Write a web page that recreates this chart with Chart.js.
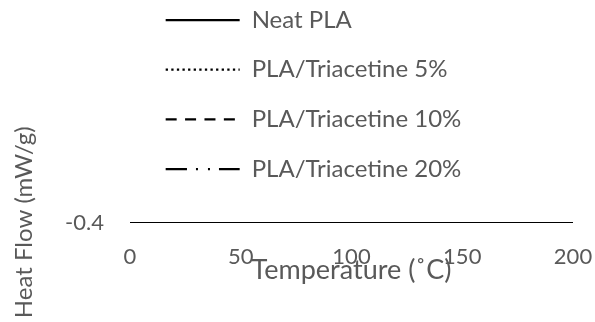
<!DOCTYPE html>
<html>
<head>
<meta charset="utf-8">
<script src="https://cdn.jsdelivr.net/npm/chart.js@4"></script>
<style>
  body { margin: 0; background: #fff; }
  canvas { display: block; }
</style>
</head>
<body>
<canvas id="chart" width="595" height="322"></canvas>
<script>
// values: the plot area is squashed flat,
// every series lies on one line at -0.4 from 0 to 200 degrees
const seriesLabels = ['Neat PLA', 'PLA/Triacetine 5%', 'PLA/Triacetine 10%', 'PLA/Triacetine 20%'];
const temperature = [0, 200];
const neatPLA = [-0.4, -0.4];
const triacetine5 = [-0.4, -0.4];
const triacetine10 = [-0.4, -0.4];
const triacetine20 = [-0.4, -0.4];
const xTicks = [0, 50, 100, 150, 200];
const yTicks = [-0.4];

const seriesValues = [neatPLA, triacetine5, triacetine10, triacetine20];
const dashes = [[], [2.3, 3.3], [11, 8.4], [21.3, 9, 2, 10, 2, 9]];
const grey = '#595959';

Chart.defaults.font.family = 'Lato';

// shift the legend to the right of the plot's left edge
const legendShift = {
    id: 'legendShift',
    afterLayout(chart) {
        chart.legend.left += 10;
        chart.legend.right += 10;
    }
};

function chartIt() {
    const ctx = document.getElementById('chart');
    new Chart(ctx, {
        type: 'line',
        data: {
            datasets: seriesLabels.map((label, i) => ({
                label: label,
                data: temperature.map((t, j) => ({x: t, y: seriesValues[i][j]})),
                borderColor: '#000',
                borderWidth: 2.25,
                borderDash: dashes[i],
                pointRadius: 0,
                fill: false
            }))
        },
        options: {
            responsive: false,
            animation: false,
            // negative bottom padding lets the tall legend keep all four rows
            layout: {padding: {top: -17.67, right: 22, bottom: -90, left: 0}},
            plugins: {
                tooltip: {enabled: false},
                title: {
                    display: true,
                    text: '',
                    position: 'top',
                    weight: 0,
                    font: {size: 10, lineHeight: 1},
                    padding: {top: 0, bottom: 20.5}
                },
                legend: {
                    position: 'top',
                    align: 'start',
                    fullSize: false,
                    labels: {
                        usePointStyle: true,
                        pointStyleWidth: 74,
                        padding: 25.67,
                        font: {size: 24},
                        generateLabels: chart => chart.data.datasets.map((ds, i) => ({
                            text: ds.label,
                            strokeStyle: ds.borderColor,
                            lineWidth: ds.borderWidth,
                            lineDash: ds.borderDash,
                            pointStyle: 'line',
                            fontColor: grey,
                            hidden: false,
                            datasetIndex: i
                        }))
                    }
                }
            },
            scales: {
                x: {
                    type: 'linear',
                    min: 0,
                    max: 200,
                    afterBuildTicks: axis => { axis.ticks = xTicks.map(v => ({value: v})); },
                    afterFit: axis => { axis.height = 189; },
                    grid: {display: false, drawTicks: true, tickLength: 21},
                    border: {display: false},
                    ticks: {color: grey, font: {size: 22}, padding: 0, maxRotation: 0},
                    title: {
                        display: true,
                        text: 'Temperature (˚C)',
                        color: grey,
                        font: {size: 27},
                        padding: {top: 0, bottom: 126}
                    }
                },
                y: {
                    min: -0.4,
                    max: -0.2,
                    afterBuildTicks: axis => { axis.ticks = yTicks.map(v => ({value: v})); },
                    afterFit: axis => { axis.width = 130; },
                    grid: {display: false, drawTicks: false},
                    border: {display: false},
                    ticks: {color: grey, font: {size: 22}, padding: 26, callback: v => v.toFixed(1)},
                    title: {
                        display: true,
                        text: 'Heat Flow (mW/g)',
                        color: grey,
                        font: {size: 24},
                        padding: {top: 10, bottom: 0}
                    }
                }
            }
        },
        plugins: [legendShift]
    });
}
chartIt();
</script>
</body>
</html>
